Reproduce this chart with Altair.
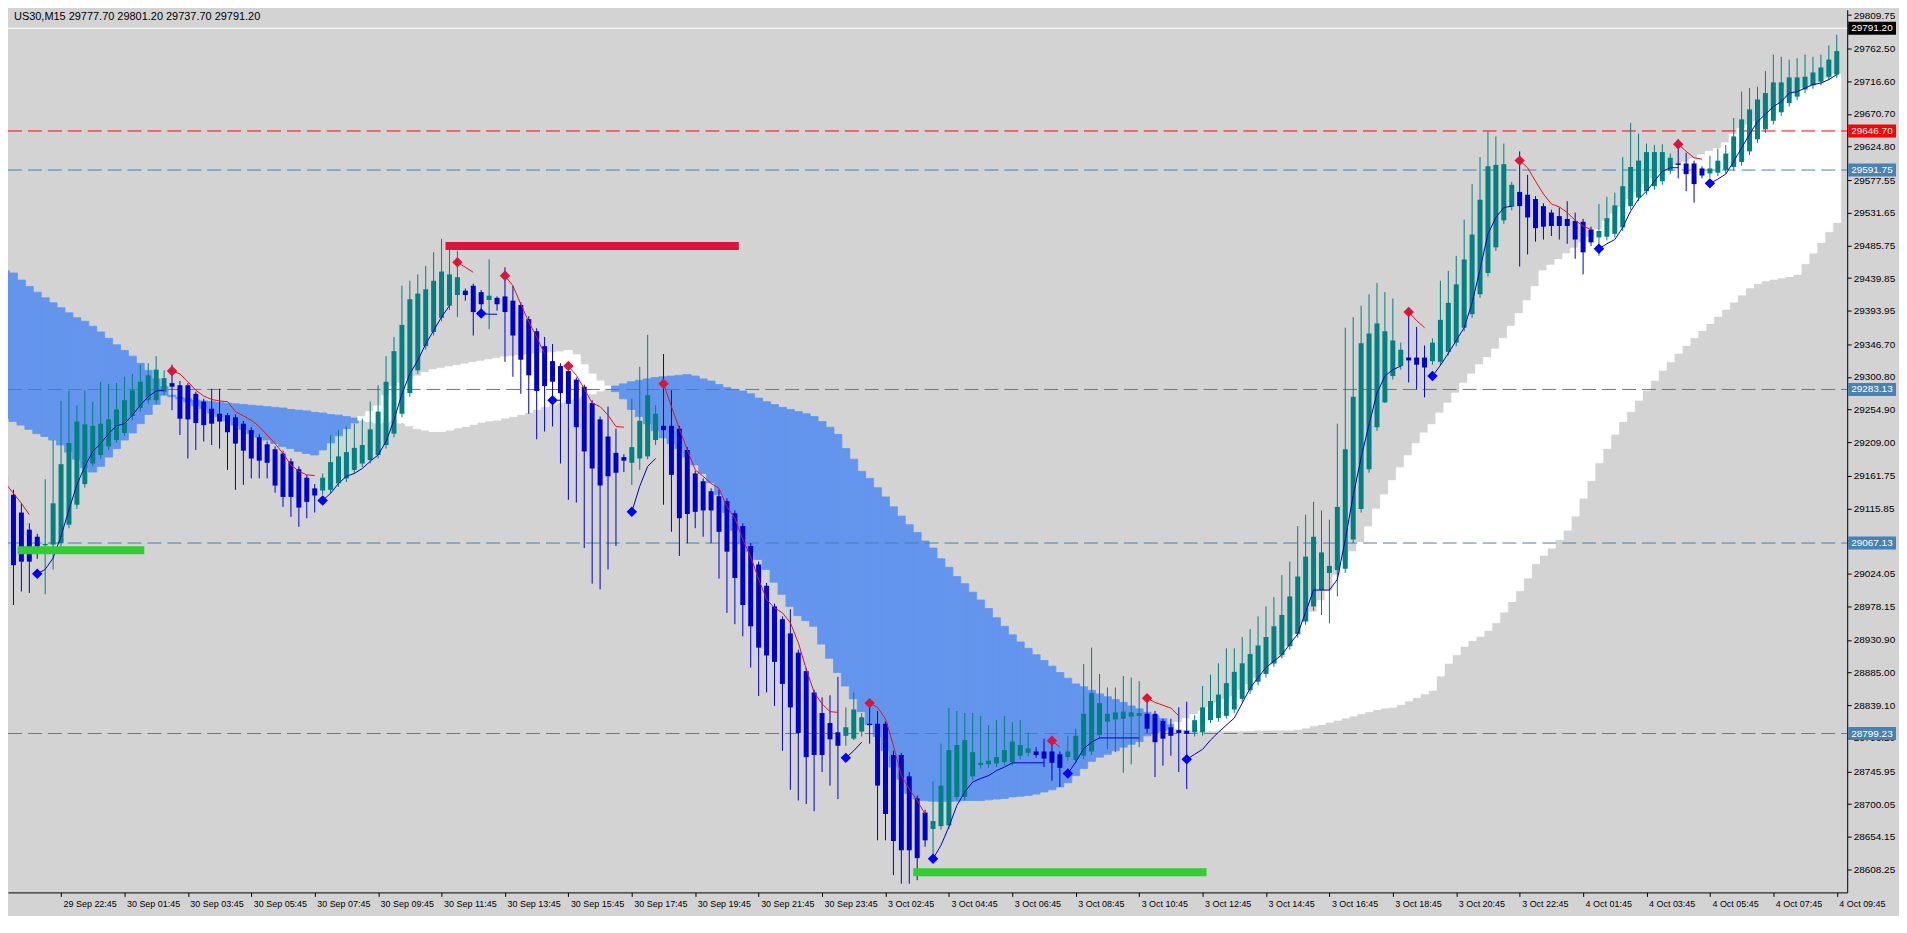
import altair as alt
import pandas as pd

# ---------------- candles (bar index 0 .. 231, M15) ----------------
opens = [29160,29135,29110,29086,29076,29064,29065,29067,29093,29121,
         29150,29179,29191,29203,29212,29222,29246,29257,29268,29268,
         29280,29292,29289,29289,29277,29266,29256,29249,29247,29244,
         29235,29226,29216,29206,29199,29193,29182,29171,29159,29144,
         29141,29142,29151,29158,29170,29179,29184,29191,29205,29221,
         29249,29278,29310,29344,29364,29384,29401,29416,29422,29429,
         29420,29409,29412,29414,29408,29402,29382,29365,29344,29323,
         29316,29309,29297,29287,29264,29241,29217,29194,29188,29180,
         29186,29189,29212,29232,29232,29228,29198,29165,29154,29140,
         29133,29126,29109,29091,29063,29037,29007,28978,28960,28940,
         28913,28887,28857,28828,28814,28801,28796,28792,28802,28813,
         28813,28813,28769,28769,28739,28708,28688,28665,28669,28670,
         28710,28710,28739,28755,28756,28757,28759,28759,28768,28772,
         28774,28774,28774,28770,28766,28762,28768,28774,28797,28816,
         28819,28820,28823,28824,28827,28827,28817,28808,28804,28803,
         28801,28801,28818,28821,28824,28833,28848,28860,28872,28883,
         28898,28910,28922,28939,28957,28978,29001,29025,29029,29031,
         29072,29115,29171,29230,29265,29302,29316,29328,29328,29328,
         29323,29322,29336,29349,29370,29389,29417,29447,29483,29521,
         29540,29561,29557,29551,29541,29532,29527,29523,29520,29519,
         29508,29497,29498,29502,29511,29541,29553,29562,29569,29576,
         29591,29601,29601,29601,29594,29587,29588,29592,29596,29603,
         29618,29635,29649,29661,29673,29686,29695,29705,29711,29716,
         29723,29726]
highs = [29175,29142,29123,29095,29080,29157,29212,29267,29281,29261,
         29282,29266,29294,29291,29292,29301,29305,29318,29320,29330,
         29310,29318,29295,29292,29280,29270,29284,29284,29250,29248,
         29239,29230,29220,29210,29203,29197,29186,29175,29163,29150,
         29165,29219,29226,29231,29235,29242,29266,29289,29330,29357,
         29429,29436,29445,29457,29476,29495,29480,29478,29425,29432,
         29423,29466,29414,29455,29429,29406,29386,29369,29357,29347,
         29320,29319,29300,29290,29268,29245,29259,29228,29192,29270,
         29315,29360,29261,29333,29282,29232,29202,29169,29158,29144,
         29142,29130,29113,29095,29067,29041,29011,28982,28964,28974,
         28917,28891,28861,28850,28853,28879,28836,28857,28828,28838,
         28831,28816,28775,28772,28745,28712,28692,28732,28785,28835,
         28831,28828,28828,28824,28811,28818,28824,28815,28818,28801,
         28780,28792,28789,28774,28796,28806,28897,28920,28883,28864,
         28864,28880,28878,28873,28845,28831,28820,28820,28836,28844,
         28825,28866,28882,28898,28919,28919,28935,28946,28964,28978,
         28991,29022,29041,29091,29107,29125,29113,29100,29235,29370,
         29385,29401,29417,29433,29420,29411,29349,29388,29371,29345,
         29355,29436,29450,29471,29522,29572,29610,29646,29639,29629,
         29575,29618,29585,29555,29545,29536,29539,29548,29532,29523,
         29512,29544,29554,29560,29610,29658,29643,29629,29627,29628,
         29615,29635,29616,29605,29597,29612,29622,29627,29665,29702,
         29707,29709,29731,29754,29751,29747,29749,29754,29751,29754,
         29767,29782]
lows = [29000,28980,28999,28997,29045,28995,29030,29060,29088,29115,
        29145,29175,29186,29198,29208,29218,29240,29252,29263,29263,
        29275,29254,29219,29186,29198,29210,29205,29200,29170,29142,
        29149,29158,29158,29158,29138,29118,29104,29090,29102,29110,
        29135,29137,29146,29153,29165,29174,29179,29186,29200,29216,
        29244,29273,29305,29339,29359,29379,29395,29385,29408,29359,
        29385,29368,29394,29322,29301,29277,29249,29213,29224,29231,
        29179,29128,29124,29060,29010,29002,29030,29063,29167,29149,
        29170,29185,29205,29121,29083,29049,29067,29088,29076,29067,
        29017,28969,28953,28936,28892,28852,28857,28838,28775,28720,
        28705,28700,28690,28745,28726,28707,28782,28790,28795,28785,
        28649,28649,28600,28588,28588,28593,28640,28623,28664,28665,
        28705,28705,28734,28750,28751,28752,28754,28754,28763,28767,
        28765,28752,28733,28724,28761,28757,28763,28769,28792,28777,
        28773,28744,28756,28780,28800,28738,28754,28768,28745,28721,
        28795,28796,28814,28816,28820,28828,28843,28855,28867,28878,
        28893,28905,28917,28934,28952,28972,28966,28954,28992,29025,
        29067,29110,29166,29225,29264,29297,29311,29293,29283,29272,
        29318,29317,29331,29344,29365,29384,29412,29442,29478,29516,
        29535,29456,29473,29491,29494,29499,29494,29488,29467,29445,
        29485,29471,29493,29497,29506,29536,29548,29557,29564,29571,
        29586,29580,29562,29546,29580,29581,29583,29587,29591,29598,
        29613,29630,29644,29656,29668,29681,29690,29700,29706,29711,
        29718,29721]
closes = [29062,29036,29041,29041,29062,29066,29123,29178,29208,29238,
          29234,29232,29235,29241,29255,29268,29282,29294,29303,29311,
          29299,29287,29242,29241,29236,29233,29235,29238,29223,29207,
          29197,29186,29183,29180,29148,29132,29132,29117,29125,29134,
          29159,29181,29189,29195,29201,29205,29227,29252,29294,29337,
          29374,29410,29418,29424,29436,29449,29445,29441,29416,29392,
          29403,29415,29403,29392,29359,29325,29303,29281,29288,29294,
          29278,29263,29230,29196,29172,29148,29161,29166,29183,29202,
          29239,29275,29249,29226,29163,29102,29108,29111,29113,29113,
          29083,29055,29018,28980,28950,28920,28909,28900,28869,28836,
          28800,28766,28769,28769,28791,28782,28808,28833,28822,28811,
          28726,28686,28648,28635,28635,28624,28649,28676,28726,28776,
          28783,28790,28773,28758,28761,28766,28776,28788,28783,28778,
          28769,28764,28758,28751,28774,28796,28827,28856,28842,28827,
          28829,28830,28829,28828,28806,28787,28792,28796,28800,28799,
          28818,28836,28845,28854,28870,28886,28898,28911,28923,28935,
          28950,28966,28992,29020,29048,29076,29054,29035,29118,29199,
          29273,29348,29362,29376,29365,29352,29339,29324,29318,29314,
          29349,29381,29405,29431,29466,29501,29550,29597,29599,29600,
          29571,29541,29525,29510,29512,29513,29513,29513,29494,29476,
          29490,29506,29524,29542,29569,29596,29605,29617,29617,29617,
          29609,29599,29586,29572,29584,29594,29605,29615,29639,29663,
          29677,29691,29700,29715,29715,29722,29722,29723,29729,29736,
          29747,29759]

# ---------------- cloud bands (top / bottom per bar) ----------------
blue1_start = 0
blue1_top = [29450,29447,29437,29428,29420,29412,29405,29398,29391,29384,29379,29372,29364,29355,
             29346,29338,29330,29320,29310,29298,29287,
             29275,29272,29270,29268,29267,29266,29265,29264,29263,29262,29261,29260,29259,29258,
             29257,29255,29254,29253,29251,29250,29248,29247,29245,29243]
blue1_bot = [29242,29238,29233,29227,29221,29217,29212,29205,29195,29185,29173,29167,29175,29188,
             29200,29212,29222,29235,29248,29262,29275,
             29273,29270,29266,29260,29256,29250,29245,29239,29233,29227,29221,29216,29212,29207,
             29203,29200,29196,29193,29191,29198,29208,29218,29228,29236]
white1_start = 45
white1_top = [29245,29252,29260,29275,29287,29292,29298,29302,29307,29311,29313,29315,29317,29319,
              29321,29323,29325,29327,29329,29330,29331,29332,29333,29334,29335,29336,29338,29332,
              29318,29305,29295,29288]
white1_bot = [29240,29238,29236,29238,29240,29236,29232,29228,29226,29224,29224,29226,29229,29231,
              29234,29237,29239,29240,29243,29245,29248,29251,29255,29259,29262,29265,29268,29271,
              29274,29277,29281,29284]
blue2_start = 77
blue2_top = [29288,29291,29294,29296,29298,29300,29301,29302,29303,29304,29302,29298,29295,29290,
             29286,29283,29281,29277,29271,29266,29262,29258,29255,29252,29249,29245,29238,29230,
             29220,29200,29185,29168,29158,29145,29132,29118,29105,29093,29082,29070,29060,29045,
             29033,29020,29010,28998,28987,28975,28962,28950,28938,28928,28919,28910,28902,28894,
             28885,28877,28869,28865,28860,28855,28851,28847,28843,28838,28834,28829,28825,28820,
             28812]
blue2_bot = [29280,29270,29255,29245,29235,29225,29215,29207,29200,29188,29177,29165,29152,29135,
             29110,29085,29066,29055,29044,29030,29012,28995,28978,28965,28958,28950,28925,28905,
             28885,28866,28848,28830,28812,28795,28775,28752,28735,28715,28707,28705,28704,28704,
             28704,28704,28705,28705,28705,28706,28707,28708,28710,28711,28712,28714,28717,28720,
             28724,28730,28740,28750,28760,28766,28770,28775,28780,28784,28788,28796,28800,28803,
             28806]
white2_start = 148
white2_top = [28815,28820,28826,28831,28836,28842,28847,28851,28860,28868,28877,28886,28896,28906,
              28922,28938,28955,28970,28986,29000,29022,29042,29055,29068,29090,29115,29135,29155,
              29173,29190,29207,29222,29234,29250,29264,29278,29292,29305,29318,29328,29340,29355,
              29372,29390,29408,29428,29450,29458,29466,29474,29482,29490,29497,29508,29520,29530,
              29539,29550,29560,29571,29580,29588,29594,29599,29603,29608,29613,29618,29622,29630,
              29642,29650,29655,29660,29667,29676,29686,29693,29700,29707,29710,29714,29720,29726]
white2_bot = [28806,28805,28804,28803,28803,28803,28803,28803,28803,28803,28804,28804,28804,28804,
              28804,28805,28807,28810,28812,28815,28818,28821,28824,28827,28830,28833,28835,28836,
              28840,28845,28850,28855,28860,28880,28898,28910,28922,28930,28936,28944,28955,28970,
              28985,29000,29018,29038,29050,29060,29072,29085,29105,29130,29155,29180,29200,29220,
              29238,29252,29268,29282,29296,29310,29322,29334,29345,29356,29366,29376,29386,29396,
              29406,29416,29426,29432,29436,29438,29440,29442,29445,29460,29475,29490,29505,29518]

# ---------------- trailing lines (start bar, values) ----------------
red_segments = [
    (0, [29151,29137,29123,29107]),
    (21, [29309,29305,29294,29282,29274,29269,29267,29266,29252,29246,29240,29231,29219,29207,
          29193,29177,29168,29163,29162]),
    (57, [29462,29455,29448]),
    (63, [29443,29429,29403,29378,29357,29333]),
    (71, [29316,29303,29284,29264,29259,29247,29231,29230]),
    (83, [29291,29259,29228,29198,29170,29161,29151,29144,29118,29102,29072,29048,29016,28988,
          28976,28969,28955,28927,28890,28857,28841,28830,28829]),
    (109, [28842,28836,28820,28782,28740,28721,28705,28686]),
    (132, [28789,28780]),
    (144, [28849,28843,28839,28835,28824]),
    (177, [29392,29380,29370]),
    (191, [29605,29595,29576,29558,29544,29540,29532,29521,29513,29508]),
    (211, [29628,29618,29609,29607]),
]
blue_segments = [
    (4, [29024,29030,29046,29077,29114,29149,29175,29196,29207,29221,29232,29235,29247,29261,
         29273,29281,29282]),
    (40, [29127,29137,29151,29161,29165,29172,29182,29191,29210,29240,29277,29305,29324,29347,
          29366,29385,29401]),
    (60, [29390,29389,29389]),
    (69, [29268,29268]),
    (79, [29111,29147,29175,29186]),
    (106, [28765,28775,28787]),
    (117, [28623,28642,28668,28698,28717,28731,28736,28740,28747,28752,28758,28758,28758,28758,
           28758]),
    (134, [28743,28759,28778,28787,28793,28793,28793,28793,28793,28793]),
    (149, [28763,28770,28777,28790,28801,28811,28821,28842,28863,28878,28892,28901,28910,28925,
           28939,28970,29001,29001,29001,29016,29072,29134,29187,29234,29278,29302,29311,29316]),
    (180, [29302,29317,29334,29352,29370,29405,29452,29502,29525,29539,29541]),
    (201, [29481,29488,29494,29511,29534,29551,29562,29576,29590,29595,29595]),
    (215, [29573,29579,29586,29604,29623,29642,29660,29670,29681,29688,29700,29702,29707,29712,
           29714,29719,29726]),
]
red_diamond_bars = [21, 57, 63, 71, 83, 109, 132, 144, 177, 191, 211]
red_diamond_prices = [29309, 29462, 29443, 29316, 29291, 28842, 28789, 28849, 29392, 29605, 29628]
blue_diamond_bars = [4, 40, 60, 69, 79, 106, 117, 134, 149, 180, 201, 215]
blue_diamond_prices = [29024, 29127, 29390, 29268, 29111, 28765, 28623, 28743, 28763, 29302, 29481, 29573]

# support / resistance blocks
sr_start = [55.5, 1.5, 114.5]
sr_end = [92.5, 17.5, 151.5]
sr_price = [29485, 29057, 28604]
sr_color = ["#DC143C", "#32CD32", "#32CD32"]

# horizontal levels
level_prices = [29646.70, 29591.75, 29283.13, 29067.13, 28799.23]
level_colors = ["#FF0000", "#4682B4", "#4682B4", "#4682B4", "#4682B4"]
bid_price = 29791.20

tag_prices = [29791.20, 29646.70, 29591.75, 29283.13, 29067.13, 28799.23]
tag_colors = ["#000000", "#FF0000", "#4682B4", "#4682B4", "#4682B4", "#4682B4"]

y_ticks = [29809.75, 29762.50, 29716.60, 29670.70, 29624.80, 29577.55, 29531.65, 29485.75,
           29439.85, 29393.95, 29346.70, 29300.80, 29254.90, 29209.00, 29161.75, 29115.85,
           29069.95, 29024.05, 28978.15, 28930.90, 28885.00, 28839.10, 28793.20, 28745.95,
           28700.05, 28654.15, 28608.25]
x_tick_labels = ["29 Sep 22:45", "30 Sep 01:45", "30 Sep 03:45", "30 Sep 05:45", "30 Sep 07:45",
                 "30 Sep 09:45", "30 Sep 11:45", "30 Sep 13:45", "30 Sep 15:45", "30 Sep 17:45",
                 "30 Sep 19:45", "30 Sep 21:45", "30 Sep 23:45", "3 Oct 02:45", "3 Oct 04:45",
                 "3 Oct 06:45", "3 Oct 08:45", "3 Oct 10:45", "3 Oct 12:45", "3 Oct 14:45",
                 "3 Oct 16:45", "3 Oct 18:45", "3 Oct 20:45", "3 Oct 22:45", "4 Oct 01:45",
                 "4 Oct 03:45", "4 Oct 05:45", "4 Oct 07:45", "4 Oct 09:45"]
x_tick_bars = [7 + 8 * k for k in range(len(x_tick_labels))]
header_text = "US30,M15  29777.70 29801.20 29737.70 29791.20"

# ---------------- build tables ----------------
TEAL, BLUE = "#008080", "#0000CD"
candles = pd.DataFrame({"bar": list(range(len(opens))), "open": opens, "high": highs,
                        "low": lows, "close": closes})
candles["col"] = [TEAL if c > o else BLUE for o, c in zip(opens, closes)]

rows = []
for kind, start, tops, bots in [("#6495ED", blue1_start, blue1_top, blue1_bot),
                                ("#FFFFFF", white1_start, white1_top, white1_bot),
                                ("#6495ED", blue2_start, blue2_top, blue2_bot),
                                ("#FFFFFF", white2_start, white2_top, white2_bot)]:
    for i, (t, b) in enumerate(zip(tops, bots)):
        rows.append({"bar": start + i, "top": t, "bot": b, "col": kind})
cloud = pd.DataFrame(rows)

def seg_frame(segs):
    r = []
    for sid, (start, vals) in enumerate(segs):
        for i, v in enumerate(vals):
            r.append({"bar": start + i, "v": v, "seg": sid})
    return pd.DataFrame(r)

red_lines = seg_frame(red_segments)
blue_lines = seg_frame(blue_segments)
red_d = pd.DataFrame({"bar": red_diamond_bars, "v": red_diamond_prices})
blue_d = pd.DataFrame({"bar": blue_diamond_bars, "v": blue_diamond_prices})
sr = pd.DataFrame({"s": sr_start, "e": sr_end, "p": sr_price, "col": sr_color})
levels = pd.DataFrame({"p": level_prices, "col": level_colors})
bid = pd.DataFrame({"p": [bid_price]})
tags = pd.DataFrame({"p": tag_prices, "col": tag_colors,
                     "txt": [f"{v:.2f}" for v in tag_prices]})

W, H = 1846, 886
X_DOMAIN = [0.9375, 0.9375 + W / 8.0]
Y_DOMAIN = [29817.3 - H * 1.4013, 29817.3]
xs = alt.Scale(domain=X_DOMAIN, nice=False, zero=False)
ys = alt.Scale(domain=Y_DOMAIN, nice=False, zero=False)

lab_expr = "[" + ",".join(f"'{t}'" for t in x_tick_labels) + "][round((datum.value - 7) / 8)]"
x_axis = alt.Axis(values=x_tick_bars, labelExpr=lab_expr, title=None, grid=False, orient="bottom",
                  tickSize=4, labelAlign="left", labelPadding=3, labelOffset=2, labelFontSize=9,
                  labelOverlap=False, labelBound=False, labelFlush=False)
y_axis = alt.Axis(values=y_ticks, format=".2f", title=None, grid=False, orient="right",
                  tickSize=4, labelPadding=2, labelFontSize=10, labelOverlap=False,
                  labelBound=False, labelFlush=False)

def X(f):
    return alt.X(f, scale=xs, axis=x_axis)

def Y(f):
    return alt.Y(f, scale=ys, axis=y_axis)

cloud_layer = alt.Chart(cloud).transform_calculate(
    x0="datum.bar - 0.5625", x1="datum.bar + 0.5"
).mark_rect(strokeWidth=0.8).encode(
    x=X("x0:Q"), x2="x1:Q", y=Y("top:Q"), y2="bot:Q",
    color=alt.Color("col:N", scale=None), stroke=alt.Stroke("col:N", scale=None))

level_layer = alt.Chart(levels).mark_rule(strokeDash=[14, 6], strokeWidth=1).encode(
    y=Y("p:Q"), x=alt.value(0), x2=alt.value(W), color=alt.Color("col:N", scale=None))

bid_layer = alt.Chart(bid).mark_rule(strokeWidth=1, color="#FFFFFF").encode(
    y=Y("p:Q"), x=alt.value(0), x2=alt.value(W))

wick_layer = alt.Chart(candles).mark_rule(strokeWidth=1).encode(
    x=X("bar:Q"), y=Y("low:Q"), y2="high:Q", color=alt.Color("col:N", scale=None))

body_layer = alt.Chart(candles).mark_bar(size=5).encode(
    x=X("bar:Q"), y=Y("open:Q"), y2="close:Q", color=alt.Color("col:N", scale=None))

red_line_layer = alt.Chart(red_lines).mark_line(strokeWidth=1, color="#E8101C").encode(
    x=X("bar:Q"), y=Y("v:Q"), detail="seg:N")
blue_line_layer = alt.Chart(blue_lines).mark_line(strokeWidth=1, color="#0000CD").encode(
    x=X("bar:Q"), y=Y("v:Q"), detail="seg:N")

red_d_layer = alt.Chart(red_d).mark_point(shape="diamond", filled=True, size=110, opacity=1,
                                           color="#DC143C").encode(x=X("bar:Q"), y=Y("v:Q"))
blue_d_layer = alt.Chart(blue_d).mark_point(shape="diamond", filled=True, size=110, opacity=1,
                                             color="#0000FF").encode(x=X("bar:Q"), y=Y("v:Q"))

sr_layer = alt.Chart(sr).mark_rule(strokeWidth=8, strokeCap="butt").encode(
    x=X("s:Q"), x2="e:Q", y=Y("p:Q"), color=alt.Color("col:N", scale=None))

tag_box = alt.Chart(tags).mark_rule(strokeWidth=13, strokeCap="butt").encode(
    y=Y("p:Q"), x=alt.value(W + 1), x2=alt.value(W + 49), color=alt.Color("col:N", scale=None))
tag_txt = alt.Chart(tags).mark_text(align="left", baseline="middle", fontSize=10,
                                     color="#FFFFFF", font="Liberation Sans").encode(
    y=Y("p:Q"), x=alt.value(W + 4), text="txt:N")

header = alt.Chart(pd.DataFrame({"t": [header_text]})).mark_text(
    align="left", baseline="middle", fontSize=11, color="#000000", font="Liberation Sans"
).encode(x=alt.value(6), y=alt.value(7), text="t:N")

chart = alt.layer(
    cloud_layer, level_layer, bid_layer, wick_layer, body_layer,
    red_line_layer, blue_line_layer, red_d_layer, blue_d_layer, sr_layer,
    tag_box, tag_txt, header
).properties(
    width=W, height=H,
    autosize=alt.AutoSizeParams(type="none"),
    padding={"left": 0, "top": 0, "right": 52, "bottom": 22},
    background="#D3D3D3",
).configure_view(
    stroke=None, fill="#D3D3D3"
).configure_axis(
    labelFont="Liberation Sans", labelColor="#000000", domainColor="#000000",
    tickColor="#000000", domainWidth=1, tickWidth=1
)

chart.save("out.html", embed_options={"renderer": "svg", "actions": False})
